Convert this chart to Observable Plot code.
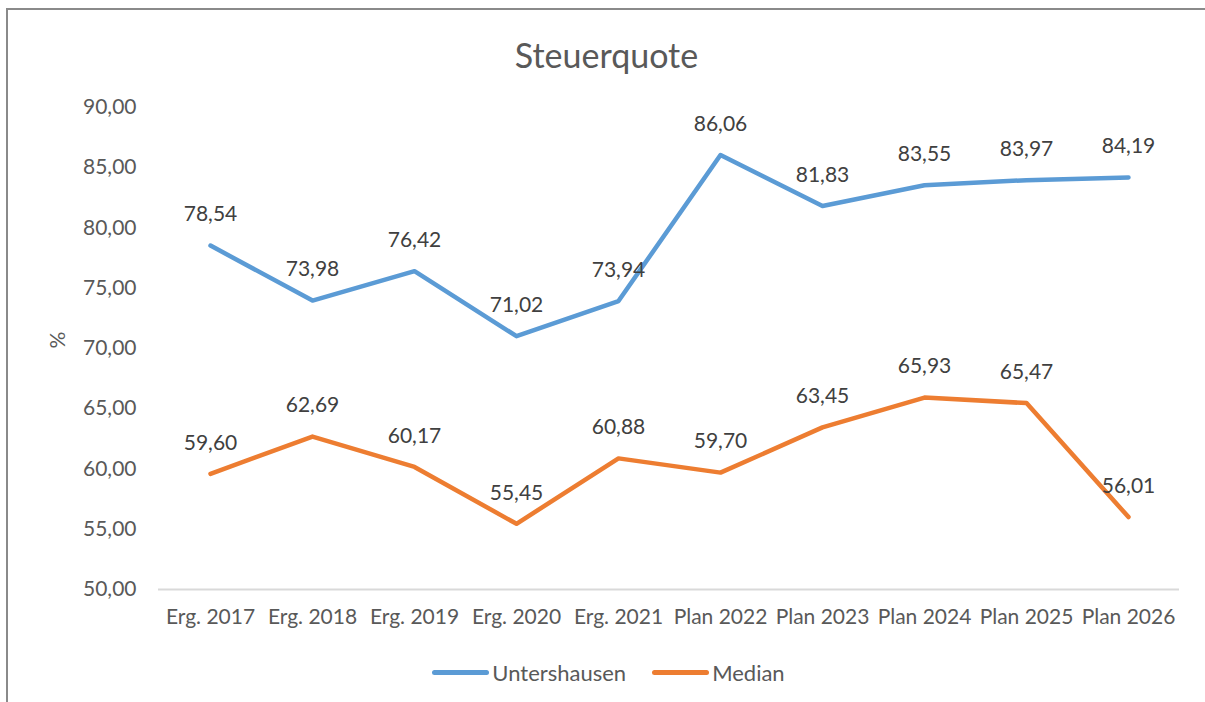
<!DOCTYPE html>
<html>
<head>
<meta charset="utf-8">
<script src="https://cdn.jsdelivr.net/npm/d3@7"></script>
<script src="https://cdn.jsdelivr.net/npm/@observablehq/plot@0.6"></script>
<style>
  html, body { margin: 0; padding: 0; background: #fff; }
  body { width: 1205px; height: 702px; overflow: hidden; position: relative; font-family: Lato, "Open Sans", sans-serif; }
  #frame { position: absolute; left: 6px; top: 8px; width: 1210px; height: 710px; border-top: 2px solid #8a8a8a; border-left: 2px solid #8a8a8a; pointer-events: none; }
  #title { position: absolute; left: 8px; right: 0; top: 0; height: 95px; box-sizing: border-box; padding-top: 33px; text-align: center; font-size: 34px; line-height: 44px; color: #595959; }
  #chart { position: absolute; left: 0; top: 95px; }
  #legend { position: absolute; left: 12px; right: 0; top: 652px; height: 40px; display: flex; justify-content: center; align-items: center; font-size: 22px; color: #595959; }
  .item { display: flex; align-items: center; margin: 0 13px; }
  .swatch { width: 57px; height: 5px; border-radius: 3px; margin-right: 3px; }
</style>
</head>
<body>
<div id="frame"></div>
<div id="title">Steuerquote</div>
<div id="chart"></div>
<div id="legend"></div>
<script>
const categories = ["Erg. 2017", "Erg. 2018", "Erg. 2019", "Erg. 2020", "Erg. 2021", "Plan 2022", "Plan 2023", "Plan 2024", "Plan 2025", "Plan 2026"];
const untershausen = [78.54, 73.98, 76.42, 71.02, 73.94, 86.06, 81.83, 83.55, 83.97, 84.19];
const median = [59.60, 62.69, 60.17, 55.45, 60.88, 59.70, 63.45, 65.93, 65.47, 56.01];
const seriesNames = ["Untershausen", "Median"];
const seriesColors = ["#5b9bd5", "#ed7d31"];
const yTicks = [50, 55, 60, 65, 70, 75, 80, 85, 90];

const fmt = d => d.toFixed(2).replace(".", ",");
const rows = [];
categories.forEach((c, i) => rows.push({cat: c, value: untershausen[i], series: seriesNames[0]}));
categories.forEach((c, i) => rows.push({cat: c, value: median[i], series: seriesNames[1]}));

const font = "Lato, 'Open Sans', sans-serif";
const chart = Plot.plot({
  width: 1205,
  height: 545,
  marginTop: 12,
  marginBottom: 51,
  marginLeft: 158,
  marginRight: 26,
  style: {fontFamily: font, fontSize: "21px", color: "#595959", background: "transparent", overflow: "visible"},
  x: {type: "band", domain: categories, padding: 0},
  y: {domain: [50, 90]},
  color: {domain: seriesNames, range: seriesColors},
  marks: [
    Plot.ruleY(yTicks.filter(d => d > 50), {stroke: "#8c8c8c", strokeWidth: 2, strokeOpacity: 1, x1: 158, x2: 1181}),
    Plot.ruleY([50], {stroke: "#d9d9d9", strokeWidth: 2, strokeOpacity: 1}),
    Plot.axisY({ticks: yTicks, tickFormat: fmt, tickSize: 0, tickPadding: 22, label: null, fill: "#595959", fontSize: 21}),
    Plot.axisX({tickSize: 0, tickPadding: 20, label: null, fill: "#595959", fontSize: 21}),
    Plot.text(["%"], {frameAnchor: "left", dx: -100, rotate: -90, fontSize: 21, fill: "#595959"}),
    Plot.line(rows, {x: "cat", y: "value", z: "series", stroke: "series", strokeWidth: 4.5, strokeLinecap: "round", strokeLinejoin: "round"}),
    Plot.text(rows, {x: "cat", y: "value", text: d => fmt(d.value), dy: -31, fontSize: 21, fill: "#404040"})
  ]
});
document.getElementById("chart").appendChild(chart);

const legend = document.getElementById("legend");
seriesNames.forEach((n, i) => {
  const item = document.createElement("div");
  item.className = "item";
  const sw = document.createElement("div");
  sw.className = "swatch";
  sw.style.background = seriesColors[i];
  const t = document.createElement("span");
  t.textContent = n;
  item.appendChild(sw);
  item.appendChild(t);
  legend.appendChild(item);
});
</script>
</body>
</html>
